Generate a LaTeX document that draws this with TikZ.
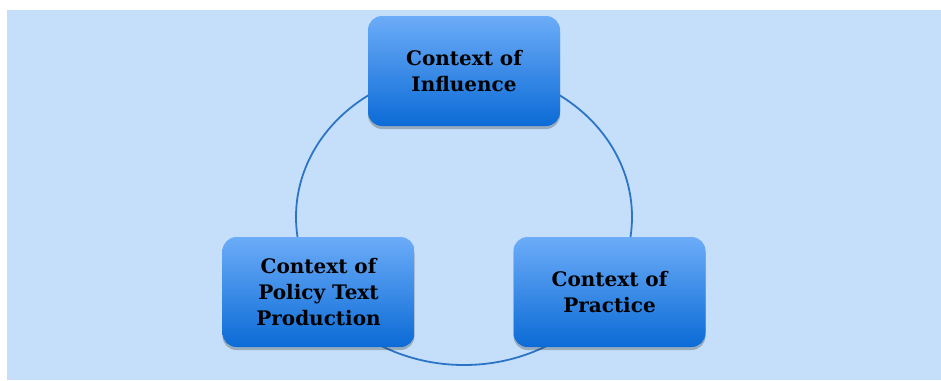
\documentclass[tikz,border=0pt]{standalone}
\usepackage{fontspec}
\setmainfont{DejaVu Serif}
\usetikzlibrary{shadows,shapes.geometric}
\definecolor{bgblue}{HTML}{C5DFFA}
\definecolor{boxtop}{HTML}{6CACF8}
\definecolor{boxbot}{HTML}{0B6BD6}
\definecolor{ringc}{HTML}{2C74C6}
\tikzset{
  ctxbox/.style={draw=none, rounded corners=14pt, minimum width=192pt, minimum height=110pt,
    top color=boxtop, bottom color=boxbot, align=center,
    font=\fontsize{20}{26}\selectfont\bfseries, text=black,
    drop shadow={shadow xshift=0pt, shadow yshift=-3pt, opacity=0.3, fill=black!80}},
  ring/.style={draw=ringc, line width=1.8pt, ellipse, minimum width=336pt, minimum height=296pt, inner sep=0pt}
}
\begin{document}
\begin{tikzpicture}[x=1pt,y=-1pt]
\useasboundingbox (0,0) rectangle (941,380);
\fill[white] (0,0) rectangle (941,380);
\fill[bgblue] (7,10) rectangle (941,380);
\node[ring] (cycle) at (464,217) {};
\node[ctxbox] (infl) at (464,71) {Context of\\Influence};
\node[ctxbox] (prod) at (318.5,292) {Context of\\Policy Text\\Production};
\node[ctxbox] (prac) at (609.5,292) {Context of\\Practice};
\end{tikzpicture}
\end{document}
